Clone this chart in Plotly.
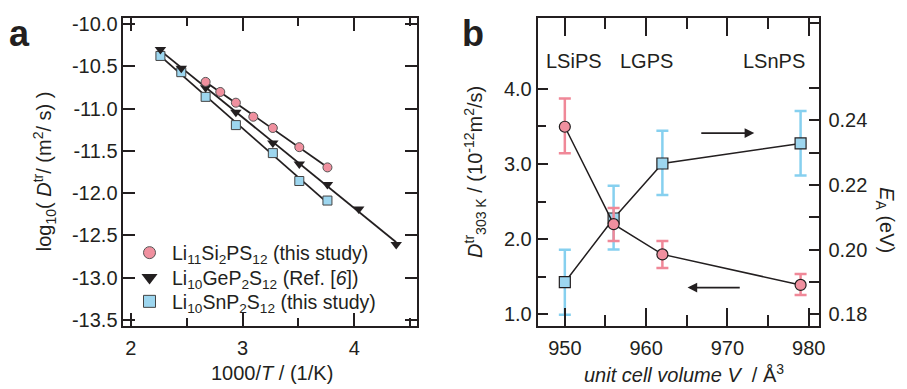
import numpy as np
import plotly.graph_objects as go

# ---------------- Panel a data ----------------
lsips_invT = [2.669, 2.800, 2.940, 3.096, 3.271, 3.508, 3.760]
lsips_logD = [-10.685, -10.804, -10.931, -11.097, -11.230, -11.457, -11.696]

lgps_invT = [2.264, 2.451, 2.669, 2.940, 3.271, 3.508, 3.760, 4.040, 4.376]
lgps_logD = [-10.302, -10.524, -10.755, -11.043, -11.408, -11.657, -11.899, -12.187, -12.609]

lsnps_invT = [2.264, 2.451, 2.669, 2.940, 3.271, 3.508, 3.760]
lsnps_logD = [-10.378, -10.570, -10.862, -11.196, -11.527, -11.857, -12.088]

a_xticks = [2, 3, 4]
a_xminor = [2.5, 3.5, 4.5]
a_yticks = [-10.0, -10.5, -11.0, -11.5, -12.0, -12.5, -13.0, -13.5]
a_yticktext = ["-10.0", "-10.5", "-11.0", "-11.5", "-12.0", "-12.5", "-13.0", "-13.5"]

# ---------------- Panel b data ----------------
materials = ["LSiPS", "LGPS", "LSnPS"]
volume = [950, 956, 962, 979]
D303 = [3.495, 2.199, 1.797, 1.391]
D303_plus = [0.375, 0.216, 0.178, 0.146]
D303_minus = [0.354, 0.224, 0.181, 0.135]
EA = [0.1899, 0.2096, 0.2266, 0.2328]
EA_plus = [0.0100, 0.0101, 0.0101, 0.0100]
EA_minus = [0.0101, 0.0096, 0.0097, 0.0099]

b_xticks = [950, 960, 970, 980]
b_xminor = [955, 965, 975]
b_Dticks = [1.0, 2.0, 3.0, 4.0]
b_Dticktext = ["1.0", "2.0", "3.0", "4.0"]
b_Dminor = [1.5, 2.5, 3.5]
b_Eticks = [0.18, 0.20, 0.22, 0.24]
b_Eticktext = ["0.18", "0.20", "0.22", "0.24"]
b_Eminor = [0.19, 0.21, 0.23, 0.25, 0.27]

PINK = "#f0909f"
PINK_ERR = "#f08898"
BLUE = "#9dd6ef"
BLUE_ERR = "#86d0ef"
INK = "#231f20"
FONT = "Liberation Sans, Arial, sans-serif"
FS = 20

fig = go.Figure()

# ---- fit lines panel a ----
for xs, ys in [(lsips_invT, lsips_logD), (lgps_invT, lgps_logD), (lsnps_invT, lsnps_logD)]:
    p = np.polyfit(xs, ys, 1)
    xl = np.array([min(xs), max(xs)])
    fig.add_trace(go.Scatter(x=xl, y=np.polyval(p, xl), mode="lines",
                             line=dict(color=INK, width=1.8), showlegend=False,
                             xaxis="x", yaxis="y", hoverinfo="skip"))

# ---- markers panel a ----
fig.add_trace(go.Scatter(x=lsnps_invT, y=lsnps_logD, mode="markers", showlegend=False,
                         marker=dict(symbol="square", size=9, color=BLUE, line=dict(color="#444", width=1)),
                         xaxis="x", yaxis="y"))
fig.add_trace(go.Scatter(x=lgps_invT, y=lgps_logD, mode="markers", showlegend=False,
                         marker=dict(symbol="triangle-down", size=10, color=INK, line=dict(color=INK, width=0)),
                         xaxis="x", yaxis="y"))
fig.add_trace(go.Scatter(x=lsips_invT, y=lsips_logD, mode="markers", showlegend=False,
                         marker=dict(symbol="circle", size=9, color=PINK, line=dict(color="#555", width=1)),
                         xaxis="x", yaxis="y"))

# ---- legend entries (one legend per row for exact spacing) ----
fig.add_trace(go.Scatter(x=[None], y=[None], mode="markers", legend="legend",
                         name="Li<sub>11</sub>Si<sub>2</sub>PS<sub>12</sub> (this study)",
                         marker=dict(symbol="circle", size=12, color=PINK, line=dict(color="#555", width=1)),
                         xaxis="x", yaxis="y"))
fig.add_trace(go.Scatter(x=[None], y=[None], mode="markers", legend="legend2",
                         name="Li<sub>10</sub>GeP<sub>2</sub>S<sub>12</sub> (Ref. [<i>6</i>])",
                         marker=dict(symbol="triangle-down", size=14, color=INK, line=dict(width=0)),
                         xaxis="x", yaxis="y"))
fig.add_trace(go.Scatter(x=[None], y=[None], mode="markers", legend="legend3",
                         name="Li<sub>10</sub>SnP<sub>2</sub>S<sub>12</sub> (this study)",
                         marker=dict(symbol="square", size=12, color=BLUE, line=dict(color="#444", width=1)),
                         xaxis="x", yaxis="y"))

# ---- panel b ----
fig.add_trace(go.Scatter(x=volume, y=EA, mode="lines+markers", showlegend=False,
                         line=dict(color=INK, width=1.5),
                         marker=dict(symbol="square", size=11, color=BLUE, line=dict(color=INK, width=1.2)),
                         error_y=dict(type="data", symmetric=False, array=EA_plus, arrayminus=EA_minus,
                                      color=BLUE_ERR, thickness=2.5, width=6),
                         xaxis="x2", yaxis="y2"))
fig.add_trace(go.Scatter(x=volume, y=D303, mode="lines+markers", showlegend=False,
                         line=dict(color=INK, width=1.5),
                         marker=dict(symbol="circle", size=11, color=PINK, line=dict(color=INK, width=1.2)),
                         error_y=dict(type="data", symmetric=False, array=D303_plus, arrayminus=D303_minus,
                                      color=PINK_ERR, thickness=2.5, width=6),
                         xaxis="x2", yaxis="y3"))

axis_common = dict(showline=True, linecolor=INK, linewidth=1.6, ticks="inside", tickcolor=INK,
                   tickwidth=1.6, showgrid=False, zeroline=False,
                   tickfont=dict(family=FONT, size=FS, color=INK))

XA = [124.3 / 907, 420 / 907]
XB = [541.7 / 907, 825 / 907]
YD = [60 / 389, 375.7 / 389]


def legend_at(ypx):
    return dict(x=128 / 907, y=1 - ypx / 389, xanchor="left", yanchor="middle",
                bgcolor="rgba(0,0,0,0)", font=dict(family=FONT, size=19.5, color=INK),
                itemwidth=35, borderwidth=0)


fig.update_layout(
    width=907, height=389,
    margin=dict(l=0, r=0, t=0, b=0),
    paper_bgcolor="white", plot_bgcolor="white",
    font=dict(family=FONT, size=FS, color=INK),
    xaxis=dict(domain=XA, range=[1.932, 4.56], tickmode="array", tickvals=a_xticks,
               ticklen=13, mirror="ticks", anchor="y", ticklabelstandoff=4,
               minor=dict(tickmode="array", tickvals=a_xminor, ticks="inside", ticklen=8,
                          tickcolor=INK, tickwidth=1.6),
               **axis_common),
    yaxis=dict(domain=YD, range=[-13.566, -9.929], tickmode="array", tickvals=a_yticks,
               ticktext=a_yticktext, ticklen=12, mirror="ticks", anchor="x",
               **axis_common),
    xaxis2=dict(domain=XB, range=[946.64, 981.22], tickmode="array", tickvals=b_xticks,
                ticklen=18, mirror="ticks", anchor="y2", ticklabelstandoff=4,
                minor=dict(tickmode="array", tickvals=b_xminor, ticks="inside", ticklen=11,
                           tickcolor=INK, tickwidth=1.6),
                **axis_common),
    yaxis2=dict(domain=YD, range=[0.1765, 0.2716], tickmode="array", tickvals=b_Eticks,
                ticktext=b_Eticktext, ticklen=10, side="right", anchor="x2",
                ticklabelstandoff=4,
                minor=dict(tickmode="array", tickvals=b_Eminor, ticks="inside", ticklen=10,
                           tickcolor=INK, tickwidth=1.6),
                **axis_common),
    yaxis3=dict(domain=YD, range=[0.851, 4.942], tickmode="array", tickvals=b_Dticks,
                ticktext=b_Dticktext, ticklen=11, side="left", anchor="x2", overlaying="y2",
                minor=dict(tickmode="array", tickvals=b_Dminor, ticks="inside", ticklen=9,
                           tickcolor=INK, tickwidth=1.6),
                **axis_common),
    legend=legend_at(254.5),
    legend2=legend_at(280.0),
    legend3=legend_at(304.5),
    showlegend=True,
)

ann = []
# panel letters
ann.append(dict(text="<b>a</b>", x=20 / 907, y=1 - 29 / 389, xref="paper", yref="paper",
                showarrow=False, font=dict(size=36, family=FONT, color=INK), xanchor="center", yanchor="middle"))
ann.append(dict(text="<b>b</b>", x=477 / 907, y=1 - 29 / 389, xref="paper", yref="paper",
                showarrow=False, font=dict(size=36, family=FONT, color=INK), xanchor="center", yanchor="middle"))
# axis titles
ann.append(dict(text="1000/<i>T</i> / (1/K)", x=274 / 907, y=1 - 378 / 389, xref="paper", yref="paper",
                showarrow=False, font=dict(size=FS), xanchor="center", yanchor="middle"))
ann.append(dict(text="log<sub>10</sub>( <i>D</i><sup>tr</sup>/ (m<sup>2</sup>/ s) )", x=45 / 907, y=1 - 171 / 389,
                xref="paper", yref="paper", showarrow=False, textangle=-90, font=dict(size=FS),
                xanchor="center", yanchor="middle"))
ann.append(dict(text="<i>unit cell volume V</i>  / Å<sup>3</sup>", x=689 / 907, y=1 - 378 / 389,
                xref="paper", yref="paper", showarrow=False, font=dict(size=FS),
                xanchor="center", yanchor="middle"))
ann.append(dict(text="<i>D</i><sup>tr</sup><sub>303 K</sub> / (10<sup>-12</sup>m<sup>2</sup>/s)", x=479 / 907,
                y=1 - 171 / 389, xref="paper", yref="paper", showarrow=False, textangle=-90,
                font=dict(size=FS), xanchor="center", yanchor="middle"))
ann.append(dict(text="<i>E</i><sub>A</sub> (eV)", x=893 / 907, y=1 - 221 / 389, xref="paper", yref="paper",
                showarrow=False, textangle=90, font=dict(size=FS), xanchor="center", yanchor="middle"))
# material labels
for name, xv in zip(materials, [951.1, 960.0, 975.7]):
    ann.append(dict(text=name, x=xv, y=4.376, xref="x2", yref="y3", showarrow=False,
                    font=dict(size=FS), xanchor="center", yanchor="middle"))
# arrows
ann.append(dict(text="", x=973.3, y=0.236, ax=966.6, ay=0.236, xref="x2", yref="y2",
                axref="x2", ayref="y2", showarrow=True, arrowhead=2, arrowsize=1.2,
                arrowwidth=1.6, arrowcolor=INK))
ann.append(dict(text="", x=965.1, y=1.356, ax=971.7, ay=1.356, xref="x2", yref="y3",
                axref="x2", ayref="y3", showarrow=True, arrowhead=2, arrowsize=1.2,
                arrowwidth=1.6, arrowcolor=INK))
fig.update_layout(annotations=ann)

fig.write_html("out.html")
